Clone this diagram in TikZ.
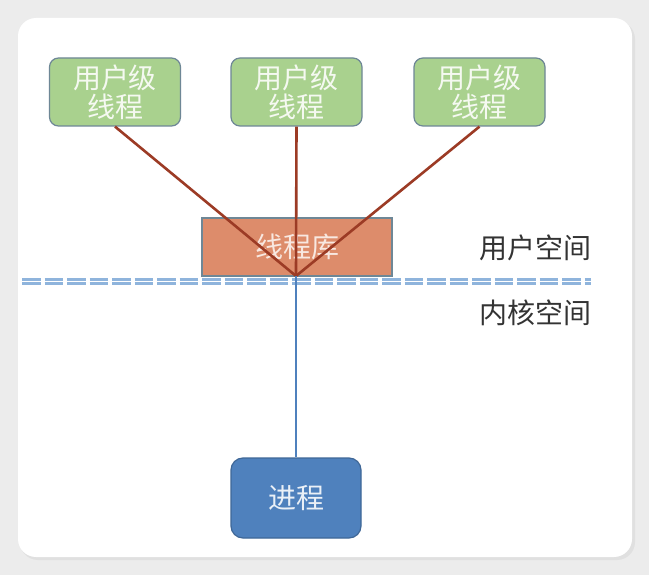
\documentclass[tikz,border=0pt]{standalone}
\usepackage{fontspec}
\setmainfont{Noto Sans CJK SC}
\usepackage{xcolor}
\definecolor{thgreen}{RGB}{169,209,142}
\definecolor{thorange}{RGB}{221,140,107}
\definecolor{thblue}{RGB}{79,129,189}
\definecolor{thedge}{RGB}{110,135,150}
\definecolor{thred}{RGB}{156,59,37}
\definecolor{thdash}{RGB}{143,180,220}
\definecolor{thshade}{RGB}{236,236,236}
\usepackage{tikz}
\tikzset{
  uthread/.style={draw=thedge,line width=1.2pt,fill=thgreen,rounded corners=9pt,minimum width=131pt,minimum height=68pt,
    align=center,text=white!88!thgreen,font=\fontsize{28}{29}\selectfont,inner sep=0pt},
  libbox/.style={draw=thedge,line width=1.2pt,fill=thorange,minimum width=190pt,minimum height=58pt,
    text=white!80!thorange,font=\fontsize{28}{30}\selectfont,inner sep=0pt},
  procbox/.style={draw=thblue!80!black,line width=1.2pt,fill=thblue,rounded corners=12pt,minimum width=130pt,minimum height=80pt,
    text=white!88!thblue,font=\fontsize{28}{30}\selectfont,inner sep=0pt},
  spacelbl/.style={font=\fontsize{28}{30}\selectfont,text=black!80},
  link/.style={thred,line width=2.6pt},
  split/.style={thdash,line width=2.2pt,dash pattern=on 18.7pt off 3.8pt}
}

\begin{document}
\begin{tikzpicture}[x=1pt,y=-1pt]
% ---- tlo i panel ----
\fill[thshade] (0,0) rectangle (649,575);
\fill[black!12,rounded corners=18pt] (20,21) rectangle (635,560);
\fill[white,rounded corners=18pt] (18,18) rectangle (632,557);
\useasboundingbox (0,0) rectangle (649,575);
% watki uzytkownika
\node[uthread] (ut1) at (115,92) {用户级\\线程};
\node[uthread] (ut2) at (296.5,92) {用户级\\线程};
\node[uthread] (ut3) at (479.5,92) {用户级\\线程};
% biblioteka watkow
\node[libbox] (lib) at (297,247) {线程库};
\coordinate (hub) at (296,276);
% granica przestrzeni (podwojna przerywana)
\draw[split] (22,279.5) -- (591,279.5);
\draw[split] (22,283.5) -- (591,283.5);
\node[spacelbl] (us) at (535,248) {用户空间};
\node[spacelbl] (ks) at (535,313) {内核空间};
% proces
\node[procbox] (proc) at (296,498) {进程};
% polaczenia
\draw[link] (ut1.south) -- (hub);
\draw[link] (ut2.south) -- (hub);
\draw[link] (ut3.south) -- (hub);
\draw[thblue,line width=2.8pt] (hub) -- (proc.north);
\end{tikzpicture}
\end{document}
